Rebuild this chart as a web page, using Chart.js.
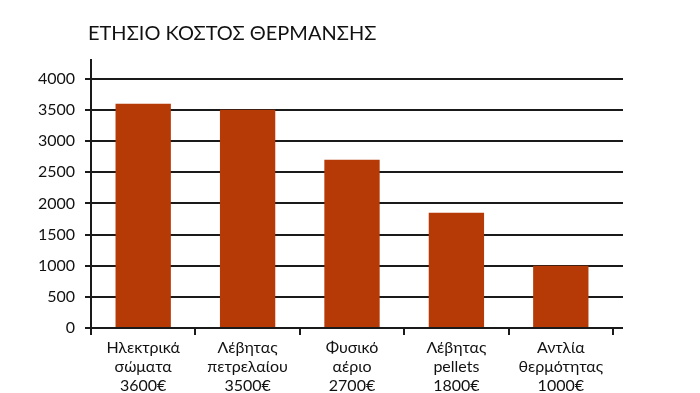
<!DOCTYPE html>
<html><head><meta charset="utf-8">
<script src="https://cdn.jsdelivr.net/npm/chart.js@4/dist/chart.umd.min.js"></script>
<style>html,body{margin:0;padding:0;background:#fff}#wrap{width:700px;height:393px}</style>
</head><body><div id="wrap"><canvas id="c"></canvas></div>
<script>
const categories = [
  ["Ηλεκτρικά", "σώματα", "3600€"],
  ["Λέβητας", "πετρελαίου", "3500€"],
  ["Φυσικό", "αέριο", "2700€"],
  ["Λέβητας", "pellets", "1800€"],
  ["Αντλία", "θερμότητας", "1000€"]
];
const costs = [3600, 3500, 2700, 1850, 1000];
const yTicks = [0, 500, 1000, 1500, 2000, 2500, 3000, 3500, 4000];
const titleText = "ΕΤΗΣΙΟ ΚΟΣΤΟΣ ΘΕΡΜΑΝΣΗΣ";

const FONT = "Lato, 'Open Sans', sans-serif";

const extras = {
  id: 'extras',
  afterDraw(chart) {
    const ctx = chart.ctx, y = chart.scales.y, a = chart.chartArea;
    ctx.save();
    ctx.strokeStyle = '#1a1a1a';
    ctx.lineWidth = 2;
    y.ticks.forEach(t => {
      const py = Math.round(y.getPixelForValue(t.value));
      ctx.beginPath();
      ctx.moveTo(a.right, py);
      ctx.lineTo(a.right + 10, py);
      ctx.stroke();
    });
    ctx.fillStyle = '#111';
    ctx.font = '20px ' + FONT;
    ctx.textAlign = 'left';
    ctx.textBaseline = 'middle';
    ctx.fillText(titleText, a.left - 3, 34);
    ctx.restore();
  }
};

new Chart(document.getElementById('c'), {
  type: 'bar',
  data: {
    labels: categories,
    datasets: [{
      data: costs,
      backgroundColor: '#b53a06',
      borderWidth: 0,
      barPercentage: 1,
      categoryPercentage: 0.53
    }]
  },
  options: {
    responsive: true,
    maintainAspectRatio: false,
    animation: false,
    layout: { padding: { left: 0, right: 87, top: 60, bottom: 0 } },
    plugins: {
      legend: { display: false },
      tooltip: { enabled: false },
      title: { display: false }
    },
    scales: {
      x: {
        grid: {
          display: true,
          offset: true,
          drawOnChartArea: false,
          drawTicks: true,
          tickLength: 7,
          color: '#1a1a1a',
          lineWidth: 2
        },
        border: { display: true, color: '#1a1a1a', width: 2 },
        ticks: {
          color: '#111',
          font: { family: FONT, size: 16 },
          padding: 3,
          maxRotation: 0,
          autoSkip: false
        },
        afterFit(s) { s.height = 65; }
      },
      y: {
        min: 0,
        max: 4300,
        afterBuildTicks(s) { s.ticks = yTicks.map(v => ({ value: v })); },
        grid: {
          color: '#1a1a1a',
          lineWidth: 2,
          tickLength: 6,
          drawTicks: true
        },
        border: { display: true, color: '#1a1a1a', width: 2 },
        ticks: {
          color: '#111',
          font: { family: FONT, size: 16 },
          padding: 10,
          callback: v => String(v)
        },
        afterFit(s) { s.width = 91; }
      }
    }
  },
  plugins: [extras]
});
</script>
</body></html>
